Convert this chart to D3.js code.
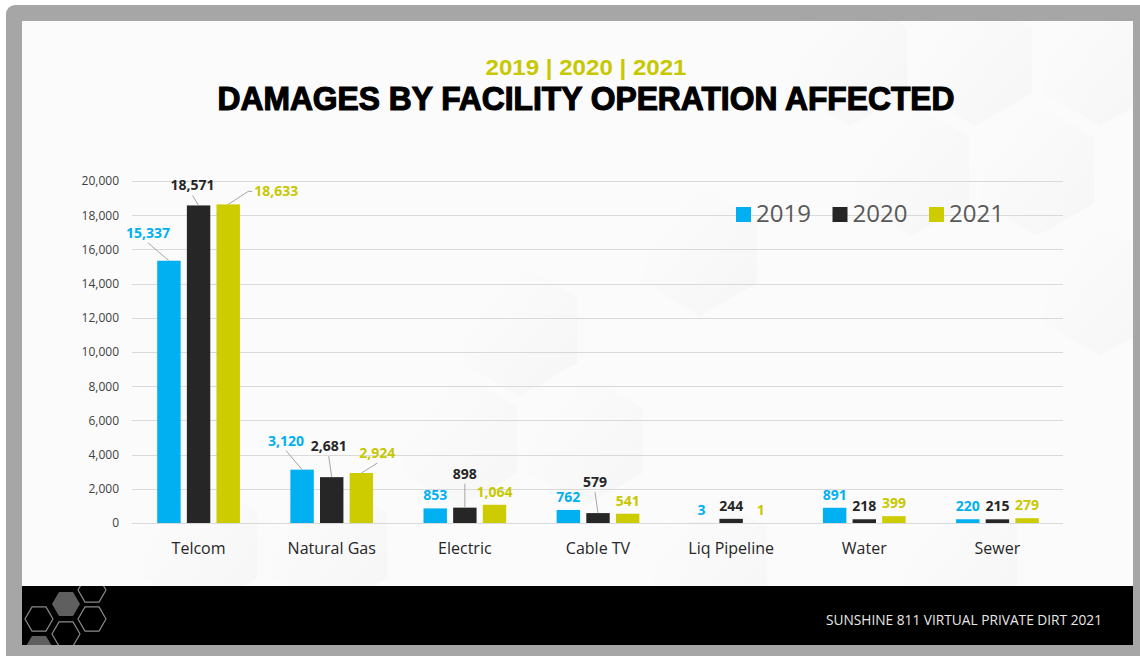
<!DOCTYPE html>
<html>
<head>
<meta charset="utf-8">
<script src="https://cdn.jsdelivr.net/npm/d3@7"></script>
<style>
  html, body { margin: 0; padding: 0; background: #fff; }
  svg { display: block; }
</style>
</head>
<body>
<div id="chart"></div>
<script>
// damages by facility operation affected - grouped bars

const categories = ["Telcom", "Natural Gas", "Electric", "Cable TV", "Liq Pipeline", "Water", "Sewer"];
const years = ["2019", "2020", "2021"];
const values2019 = [15337, 3120, 853, 762, 3, 891, 220];
const values2020 = [18571, 2681, 898, 579, 244, 218, 215];
const values2021 = [18633, 2924, 1064, 541, 1, 399, 279];
const yTicks = [0, 2000, 4000, 6000, 8000, 10000, 12000, 14000, 16000, 18000, 20000];
const seriesColors = ["#00b0f0", "#262626", "#cccc00"];

// labels that sit away from their bar and get a leader line
const labelNudge = {
    "Telcom|2019": [-21, -15],
    "Telcom|2020": [-6, -7],
    "Telcom|2021": [48, 0],
    "Natural Gas|2019": [-16, -16],
    "Natural Gas|2020": [-3, -18],
    "Natural Gas|2021": [16, -7],
    "Electric|2020": [0, -21],
    "Cable TV|2020": [-3, -18]
};

const W = 1140, H = 656;
const svg = d3.select("#chart").append("svg")
    .attr("width", W)
    .attr("height", H);

const defs = svg.append("defs");
const grad = defs.append("linearGradient")
    .attr("id", "hexGrad")
    .attr("x1", "0%").attr("y1", "0%").attr("x2", "100%").attr("y2", "100%");
grad.append("stop").attr("offset", "0%").attr("stop-color", "#ffffff");
grad.append("stop").attr("offset", "100%").attr("stop-color", "#ececec");
defs.append("clipPath").attr("id", "slideClip")
    .append("rect").attr("x", 22).attr("y", 21).attr("width", 1111).attr("height", 565);
defs.append("clipPath").attr("id", "footClip")
    .append("rect").attr("x", 22).attr("y", 586).attr("width", 1111).attr("height", 59);

// frame + slide
svg.append("rect").attr("x", 6).attr("y", 5).attr("width", 1150).attr("height", 670)
    .attr("rx", 9).attr("fill", "#a6a6a6");
svg.append("rect").attr("x", 22).attr("y", 21).attr("width", 1111).attr("height", 565)
    .attr("fill", "#fbfbfb");

function hexPath(cx, cy, r, flat) {
    const pts = d3.range(6).map(i => {
        const a = (Math.PI / 3) * i + (flat ? 0 : Math.PI / 6);
        return [cx + r * Math.cos(a), cy + r * Math.sin(a)];
    });
    return "M" + pts.map(p => p.join(",")).join("L") + "Z";
}

// faint background hexagons
const bgHex = [[850, 60], [975, 60], [1100, 60], [912, 170], [1037, 170], [1100, 290],
    [700, 250], [520, 330], [460, 440], [585, 440], [200, 545], [330, 545], [710, 560], [960, 560]];
svg.append("g").attr("clip-path", "url(#slideClip)")
    .selectAll("path").data(bgHex).enter().append("path")
    .attr("d", d => hexPath(d[0], d[1], 66, false))
    .attr("fill", "url(#hexGrad)")
    .attr("opacity", 0.35);

// footer
svg.append("rect").attr("x", 22).attr("y", 586).attr("width", 1111).attr("height", 59).attr("fill", "#000");
const footHex = [[39, 619, false], [39, 648, true], [66, 604, true], [66, 634, false], [92, 590, false], [92, 619, false]];
svg.append("g").attr("clip-path", "url(#footClip)")
    .selectAll("path").data(footHex).enter().append("path")
    .attr("d", d => hexPath(d[0], d[1], 14, true))
    .attr("fill", d => d[2] ? "#5f5f5f" : "none")
    .attr("stroke", d => d[2] ? "none" : "#8a8a8a")
    .attr("stroke-width", 1.2);
svg.append("text")
    .attr("x", 1102).attr("y", 625)
    .attr("text-anchor", "end")
    .attr("textLength", 276).attr("lengthAdjust", "spacingAndGlyphs")
    .style("font-family", "'Open Sans', sans-serif")
    .style("font-size", "15px")
    .style("fill", "#e8e8e8")
    .text("SUNSHINE 811 VIRTUAL PRIVATE DIRT 2021");

// titles
svg.append("text")
    .attr("x", 586).attr("y", 75)
    .attr("text-anchor", "middle")
    .attr("textLength", 201).attr("lengthAdjust", "spacingAndGlyphs")
    .style("font-family", "'Liberation Sans', Arial, sans-serif")
    .style("font-weight", "bold")
    .style("font-size", "22px")
    .style("fill", "#c8c800")
    .text("2019 | 2020 | 2021");
svg.append("text")
    .attr("x", 586).attr("y", 110)
    .attr("text-anchor", "middle")
    .attr("textLength", 737).attr("lengthAdjust", "spacingAndGlyphs")
    .style("font-family", "'Liberation Sans', Arial, sans-serif")
    .style("font-weight", "bold")
    .style("font-size", "33px")
    .style("fill", "#000")
    .style("stroke", "#000")
    .style("stroke-width", "1.2px")
    .text("DAMAGES BY FACILITY OPERATION AFFECTED");

// scales
const x0 = d3.scaleBand().domain(categories).range([132, 1064]).padding(0);
const x1 = d3.scaleBand().domain(years).range([-41.35, 41.35]).paddingInner(0.21);
const y = d3.scaleLinear().domain([0, 20000]).range([523, 181]);

const g = svg.append("g");

// gridlines
g.selectAll(".grid").data(yTicks).enter().append("line")
    .attr("class", "grid")
    .attr("x1", 132).attr("x2", 1063)
    .attr("y1", d => Math.round(y(d)) + 0.5).attr("y2", d => Math.round(y(d)) + 0.5)
    .attr("stroke", "#d9d9d9").attr("stroke-width", 1);

// y axis labels
const yAxis = d3.axisLeft(y).tickValues(yTicks).tickFormat(d3.format(",")).tickSize(0).tickPadding(0);
const yg = svg.append("g").attr("transform", "translate(119,0)").call(yAxis);
yg.select(".domain").remove();
yg.selectAll("text")
    .style("font-family", "'Open Sans', sans-serif")
    .style("font-size", "12px")
    .style("fill", "#404040");

// x axis labels
const xAxis = d3.axisBottom(x0).tickSize(0).tickPadding(0);
const xg = svg.append("g").attr("transform", "translate(0,543)").call(xAxis);
xg.select(".domain").remove();
xg.selectAll("text")
    .style("font-family", "'Open Sans', sans-serif")
    .style("font-size", "16px")
    .style("fill", "#262626");

// bar rows
const rows = [];
categories.forEach((c, i) => {
    [values2019, values2020, values2021].forEach((vals, k) => {
        rows.push({ cat: c, year: years[k], value: vals[i], color: seriesColors[k] });
    });
});

g.selectAll(".bar").data(rows).enter().append("rect")
    .attr("class", "bar")
    .attr("x", d => x0(d.cat) + x0.bandwidth() / 2 + x1(d.year))
    .attr("width", x1.bandwidth())
    .attr("y", d => y(d.value))
    .attr("height", d => y(0) - y(d.value))
    .attr("fill", d => d.color);

// data labels
const fmt = d3.format(",");
rows.forEach(d => {
    const cx = x0(d.cat) + x0.bandwidth() / 2 + x1(d.year) + x1.bandwidth() / 2;
    const top = y(d.value);
    const nudge = labelNudge[d.cat + "|" + d.year] || [0, 0];
    const lx = cx + nudge[0];
    const ly = top - 13 + nudge[1];
    const side = Math.abs(nudge[0]) > 30;

    const t = g.append("text")
        .attr("x", lx).attr("y", ly + 5)
        .attr("text-anchor", "middle")
        .style("font-family", "'Open Sans', sans-serif")
        .style("font-weight", "bold")
        .style("font-size", "14px")
        .style("fill", d.color === "#cccc00" ? "#c8c800" : d.color)
        .text(fmt(d.value));

    if (nudge[0] !== 0 || nudge[1] !== 0) {
        let pts;
        if (side) {
            const w = t.node().getComputedTextLength();
            const left = lx - w / 2;
            pts = [[cx, top], [left - 6, ly], [left - 2, ly]];
        } else {
            pts = [[cx, top], [lx, ly + 10]];
        }
        g.append("path")
            .attr("d", d3.line()(pts))
            .attr("fill", "none")
            .attr("stroke", "#a6a6a6")
            .attr("stroke-width", 1);
    }
});

// legend
const legend = svg.append("g").attr("transform", "translate(736,207)");
years.forEach((yr, k) => {
    const item = legend.append("g").attr("transform", `translate(${k * 96.5},0)`);
    item.append("rect").attr("width", 15).attr("height", 15).attr("fill", seriesColors[k]);
    item.append("text")
        .attr("x", 20).attr("y", 15)
        .style("font-family", "'Open Sans', sans-serif")
        .style("font-size", "24px")
        .style("fill", "#595959")
        .text(yr);
});
</script>
</body>
</html>
